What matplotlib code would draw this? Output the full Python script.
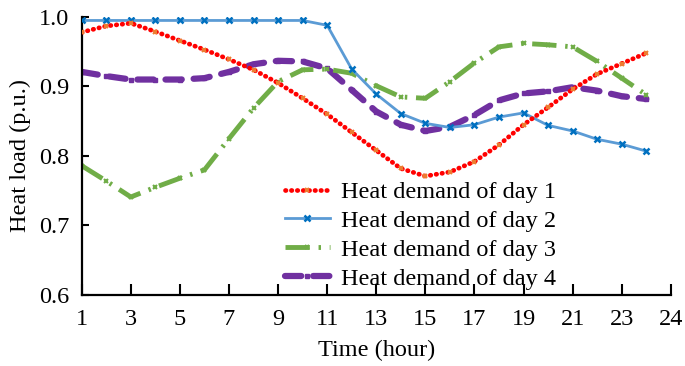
import matplotlib
matplotlib.use("Agg")
import matplotlib.pyplot as plt

hours = list(range(1, 25))
day1 = [0.978, 0.987, 0.991, 0.979, 0.966, 0.953, 0.939, 0.924, 0.905, 0.883,
        0.860, 0.834, 0.808, 0.782, 0.771, 0.777, 0.792, 0.816, 0.845, 0.870,
        0.896, 0.918, 0.933, 0.948]
day2 = [0.995, 0.995, 0.995, 0.995, 0.995, 0.995, 0.995, 0.995, 0.995, 0.995,
        0.988, 0.925, 0.889, 0.861, 0.847, 0.841, 0.845, 0.856, 0.862, 0.844,
        0.836, 0.824, 0.817, 0.807]
day3 = [0.786, 0.764, 0.741, 0.755, 0.768, 0.780, 0.825, 0.869, 0.907, 0.924,
        0.925, 0.919, 0.901, 0.885, 0.883, 0.907, 0.934, 0.957, 0.962, 0.960,
        0.957, 0.936, 0.912, 0.888]
day4 = [0.921, 0.915, 0.910, 0.910, 0.910, 0.912, 0.921, 0.932, 0.937, 0.936,
        0.926, 0.895, 0.864, 0.845, 0.836, 0.842, 0.859, 0.880, 0.890, 0.893,
        0.899, 0.894, 0.886, 0.882]
labels = ["Heat demand of day 1", "Heat demand of day 2",
          "Heat demand of day 3", "Heat demand of day 4"]
xtick_pos = [1, 3, 5, 7, 9, 11, 13, 15, 17, 19, 21, 23, 25]
xtick_lab = ["1", "3", "5", "7", "9", "11", "13", "15", "17", "19", "21", "23", "24"]
yticks = [0.6, 0.7, 0.8, 0.9, 1.0]

plt.rcParams['font.family'] = ['Liberation Serif', 'DejaVu Serif']
FS = 17.5

fig = plt.figure(figsize=(6.85, 3.66), dpi=100)
ax = fig.add_axes([0.1193, 0.194, 0.860, 0.7596])

ax.plot(hours, day1, color='#FF0000', lw=3.4, linestyle=(0, (0.1, 1.15)),
        dash_capstyle='round', marker='x', ms=3, mec='#ED7D31', mew=1.5,
        label=labels[0], zorder=4)
ax.plot(hours, day2, color='#5B9BD5', lw=2.0, linestyle='-',
        marker='x', ms=4.5, mec='#0070C0', mew=1.8, label=labels[1], zorder=3)
ax.plot(hours, day3, color='#70AD47', lw=3.5, linestyle=(0, (5, 1.8, 0.5, 1.8)),
        marker='x', ms=3, mec='#70AD47', mew=1.5, label=labels[2], zorder=2)
ax.plot(hours, day4, color='#7030A0', lw=4.5, linestyle=(0, (2.6, 1.9)),
        dash_capstyle='round', marker='s', ms=2.5, mec='#7030A0', mfc='#7030A0',
        label=labels[3], zorder=1)

ax.set_xlim(1, 25)
ax.set_ylim(0.6, 1.0)
ax.set_xticks(xtick_pos)
ax.set_xticklabels(xtick_lab)
ax.set_yticks(yticks)
ax.set_yticklabels([f"{v:.1f}" for v in yticks])
ax.tick_params(axis='x', direction='in', length=8, width=1.5, labelsize=FS, pad=10)
ax.tick_params(axis='y', direction='in', length=5, width=1.5, labelsize=FS, pad=9)
for s in ['top', 'right']:
    ax.spines[s].set_visible(False)
for s in ['left', 'bottom']:
    ax.spines[s].set_linewidth(1.6)
ax.set_xlabel("Time (hour)", fontsize=FS, labelpad=7)
ax.set_ylabel("Heat load (p.u.)", fontsize=FS, labelpad=6)

leg = ax.legend(loc='upper left', bbox_to_anchor=(0.416, 0.505),
                bbox_transform=fig.transFigure, frameon=False, fontsize=FS,
                handlelength=1.85, handletextpad=0.45, labelspacing=0.28,
                borderpad=0, borderaxespad=0, markerscale=1.0)

fig.savefig("out.png", dpi=100)
